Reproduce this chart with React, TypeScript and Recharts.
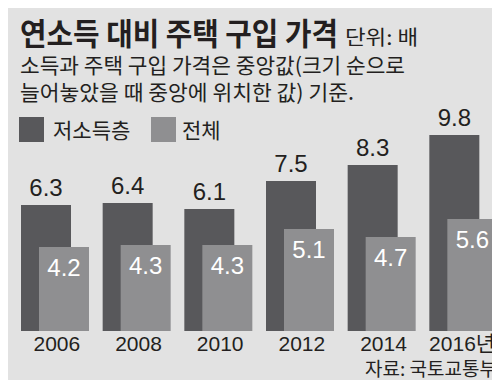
import React from 'react';
import { BarChart, Bar, XAxis, YAxis, LabelList } from 'recharts';

const years = ['2006', '2008', '2010', '2012', '2014', '2016년'];
const lowIncome = [6.3, 6.4, 6.1, 7.5, 8.3, 9.8];
const overall = [4.2, 4.3, 4.3, 5.1, 4.7, 5.6];

const data = years.map((year, i) => ({ year, low: lowIncome[i], all: overall[i] }));

const BG = '#e2e2e2';
const DARK = '#58585b';
const LIGHT = '#8f8f91';
const INK = '#231f20';
const KR = '"Noto Sans CJK KR", sans-serif';
const NUM = '"Liberation Sans", "Noto Sans CJK KR", Arial, sans-serif';

const TopLabel = (props: any) => {
  const { x, y, width, value } = props;
  return (
    <text x={x + width / 2} y={y - 9} textAnchor="middle" fontFamily={NUM} fontSize={24} fill={INK}>
      {value}
    </text>
  );
};

const InsideLabel = (props: any) => {
  const { x, y, width, value } = props;
  return (
    <text x={x + width / 2} y={y + 29} textAnchor="middle" fontFamily={NUM} fontSize={24} fill="#ffffff">
      {value}
    </text>
  );
};

// "2016년" is wider, so pin its right edge instead of centring
const YearTick = (props: any) => {
  const { x, y, payload } = props;
  const label = String(payload.value);
  const last = label === years[years.length - 1];
  return (
    <text
      x={last ? x + 32 : x + 2}
      y={y + 18}
      textAnchor={last ? 'end' : 'middle'}
      fontFamily={NUM}
      fontSize={21}
      fill={INK}
    >
      {label}
    </text>
  );
};

const App: React.FC = () => {
  return (
    <div style={{ position: 'relative', width: 500, height: 388, margin: -8, background: BG, overflow: 'hidden' }}>
      <div style={{ position: 'absolute', left: 0, top: 0 }}>
        <BarChart width={504} height={388} data={data} margin={{ top: 131, right: 0, left: 14, bottom: 0 }} barGap={-32} barSize={50}>
          <YAxis hide domain={[0, 10]} />
          <XAxis
            dataKey="year"
            height={57}
            axisLine={false}
            tickLine={false}
            tickSize={0}
            interval={0}
            tick={YearTick}
          />
          <Bar dataKey="low" fill={DARK} isAnimationActive={false}>
            <LabelList dataKey="low" content={TopLabel} />
          </Bar>
          <Bar dataKey="all" fill={LIGHT} isAnimationActive={false}>
            <LabelList dataKey="all" content={InsideLabel} />
          </Bar>
        </BarChart>
      </div>
      <svg width={500} height={388} style={{ position: 'absolute', left: 0, top: 0, pointerEvents: 'none' }}>
        <text x={20} y={45} fontFamily={KR} fontWeight="bold" fontSize={31} fill={INK} textLength={318} lengthAdjust="spacingAndGlyphs">
          연소득 대비 주택 구입 가격
        </text>
        <text x={345} y={45} fontFamily={KR} fontSize={20} fill={INK} textLength={73} lengthAdjust="spacingAndGlyphs">
          단위: 배
        </text>
        <text x={20} y={73} fontFamily={KR} fontSize={21} fill={INK} textLength={385} lengthAdjust="spacingAndGlyphs">
          소득과 주택 구입 가격은 중앙값(크기 순으로
        </text>
        <text x={20} y={100} fontFamily={KR} fontSize={21} fill={INK} textLength={334} lengthAdjust="spacingAndGlyphs">
          늘어놓았을 때 중앙에 위치한 값) 기준.
        </text>
        <rect x={19} y={117} width={25} height={25} fill={DARK} />
        <text x={53} y={138} fontFamily={KR} fontSize={21} fill={INK}>
          저소득층
        </text>
        <rect x={151} y={117} width={25} height={25} fill={LIGHT} />
        <text x={182} y={138} fontFamily={KR} fontSize={21} fill={INK}>
          전체
        </text>
        <text x={497} y={376} textAnchor="end" fontFamily={KR} fontSize={19} fill={INK}>
          자료: 국토교통부
        </text>
      </svg>
    </div>
  );
};

export default App;
